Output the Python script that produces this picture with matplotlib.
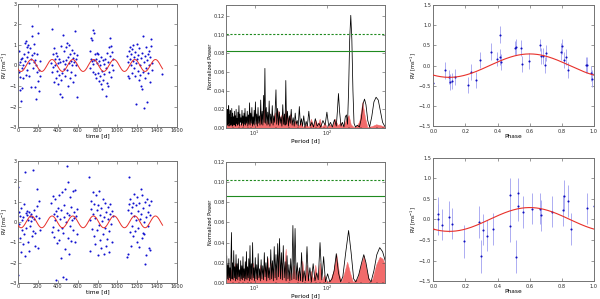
import numpy as np
import matplotlib
matplotlib.use("Agg")
from matplotlib import pyplot as plt

# ---- RV time series (top: data, bottom: residuals) ----
t_top = [4, 9, 13, 16, 21, 24, 29, 33, 36, 41, 44, 51, 54, 61, 66, 69, 76, 79, 86, 89, 94, 101, 104,
         111, 114, 121, 126, 129, 136, 141, 144, 151, 156, 159, 166, 171, 174, 181, 186, 189, 196,
         199, 206, 209, 216, 219, 226,
         334, 341, 346, 349, 356, 359, 366, 369, 376, 379, 386, 389, 396, 399, 406, 409, 416, 421,
         424, 431, 434, 441, 444, 451, 454, 461, 464, 471, 474, 481, 484, 491, 494, 501, 504, 511,
         514, 521, 524, 531, 534, 541, 544, 551, 554, 561, 564, 571, 574, 581, 584, 591, 594,
         721, 724, 731, 734, 741, 744, 751, 756, 759, 766, 769, 776, 779, 786, 789, 796, 799, 806,
         809, 816, 819, 826, 829, 836, 839, 846, 849, 856, 859, 866, 869, 876, 881, 884, 891, 894,
         901, 904, 911, 914, 921, 924, 931, 934, 941, 944, 951, 954,
         1101, 1104, 1111, 1114, 1121, 1124, 1131, 1134, 1141, 1144, 1151, 1154, 1161, 1164, 1171,
         1174, 1181, 1184, 1191, 1194, 1201, 1204, 1211, 1214, 1221, 1224, 1231, 1234, 1241, 1244,
         1251, 1254, 1261, 1264, 1271, 1274, 1281, 1284, 1291, 1294, 1301, 1304, 1311, 1314, 1321,
         1324, 1331, 1334, 1341, 1344, 1351, 1452]
rv_top = [0.05, -0.3, 0.7, -0.55, 0.15, -1.2, 0.3, -1.75, -0.1, -1.1, 0.35, 0.0, -0.6, 0.55, 0.2,
          1.1, -0.45, 1.2, 0.9, 0.4, -0.2, 0.65, 1.0, 0.1, -0.5, 0.85, 0.3, -1.05, 1.45, 1.9, 0.5,
          -0.1, 1.05, 0.15, 0.6, -1.05, 0.25, -1.65, 0.0, -0.3, 0.55, -0.75, 1.6, -1.25, -0.2, 0.2,
          -0.5,
          0.1, -0.3, 1.78, 0.55, -0.05, 0.85, -0.8, 0.3, 0.0, 0.6, -0.6, -0.25, 0.45, -0.9, 0.1,
          -0.45, 0.3, -1.4, 0.15, -0.7, 0.95, -1.55, -0.35, 1.5, 0.2, -0.15, 0.7, 0.05, -0.5, 0.9,
          0.25, 1.1, -0.2, -1.0, 0.4, 0.1, 1.0, -0.6, 0.55, 0.2, -0.3, 0.75, 0.0, -0.8, 0.35, 0.15,
          0.6, 1.68, -0.45, 0.3, 0.0, -1.55, 0.5,
          0.7, -0.1, 0.3, 1.35, 1.25, 0.2, -0.3, 1.72, 0.05, 1.6, 0.25, -0.4, 0.55, 0.3, -0.6, 0.6,
          0.1, -0.35, 0.55, -0.75, 0.2, -0.5, 0.0, -0.9, 0.4, -1.15, -0.25, 0.25, -0.7, 0.05, -0.4,
          0.3, -1.5, -0.1, 0.6, -0.85, -1.0, 0.15, 0.9, -0.3, 1.35, 0.45, -0.55, 0.95, 0.0, 0.65,
          -0.2, 0.3,
          0.45, -0.5, 0.15, 0.7, -0.6, 0.3, 0.9, 0.0, 0.55, -0.35, 0.8, 0.2, 1.0, -0.1, 0.4, -0.5,
          0.65, 0.1, -1.9, 0.3, 1.05, -0.25, 0.5, -0.7, 0.85, 0.0, -0.45, 0.35, -1.0, 0.6, -1.15,
          -0.3, 1.45, 0.15, -2.05, 0.45, -0.6, 0.9, -0.1, 0.25, -1.8, 0.55, -0.35, 0.7, 0.0, -0.8,
          0.4, 0.95, 1.3, -0.2, 0.1, -0.4]

t_bot = [2, 5, 9, 14, 18, 23, 27, 31, 36, 41, 46, 52, 57, 63, 66, 71, 77, 83, 88, 94, 99, 104,
         109, 113, 118, 123, 128, 133, 138, 143, 149, 154, 158, 163, 169, 174, 181, 188, 195, 201,
         207, 214, 221,
         336, 342, 348, 353, 359, 364, 369, 373, 378, 383, 389, 394, 399, 405, 411, 416, 422, 428,
         433, 438, 444, 449, 455, 460, 466, 471, 476, 482, 486, 490, 495, 500, 505, 510, 516, 521,
         527, 533, 538, 544, 549, 555, 561, 566, 572, 578, 584, 590, 596,
         718, 722, 728, 733, 739, 745, 750, 756, 762, 767, 773, 778, 784, 790, 795, 801, 806, 812,
         817, 823, 828, 834, 839, 845, 851, 856, 862, 867, 873, 878, 884, 890, 895, 901, 907, 912,
         918, 924, 930, 936, 942, 948, 953,
         1098, 1102, 1107, 1112, 1118, 1123, 1128, 1134, 1139, 1145, 1150, 1156, 1161, 1167, 1172,
         1178, 1183, 1189, 1194, 1200, 1205, 1211, 1216, 1222, 1227, 1233, 1238, 1244, 1249, 1255,
         1260, 1266, 1271, 1277, 1282, 1288, 1293, 1299, 1304, 1310, 1315, 1321, 1326, 1332, 1338]
rv_bot = [-2.6, 1.7, 0.5, -0.1, 0.3, -0.8, 0.7, -1.5, 0.1, -0.4, -1.1, 0.25, -0.6, 0.9, 2.45,
          -1.7, 0.45, -0.3, 0.35, 0.55, -1.0, 0.1, -1.45, 0.5, 0.3, -0.2, 0.4, 0.05, -0.7, 0.25,
          2.55, -0.45, 0.6, 0.15, -1.2, -0.55, 0.3, 0.8, 1.6, -1.3, 1.05, 0.2, -0.4,
          0.95, -0.5, 1.25, -0.25, 0.4, -0.75, 1.1, 0.1, -2.85, 0.55, -1.05, 0.3, -0.4, 0.7, 1.3,
          -0.9, 0.15, -1.8, 0.6, -0.3, 1.45, -0.55, -2.7, 0.25, 0.85, -1.35, 1.6, 0.0, -2.8, 2.75,
          0.45, -0.8, 1.95, -1.6, 0.35, 1.2, -0.2, 0.75, -0.95, 0.1, 1.5, -0.4, 0.5, 0.2, 1.55,
          -1.0, 0.3, -0.6, 0.65,
          2.2, 0.1, -1.45, 0.65, 1.05, -0.35, 0.4, 1.45, -0.7, 0.9, 0.2, -1.1, 1.3, -0.4, 0.6,
          -1.65, 0.85, -0.15, 1.5, -0.9, 0.35, -1.3, 0.7, 0.05, -0.6, 1.1, -1.6, 0.25, -0.3, 0.95,
          -1.2, 0.5, -0.85, 0.15, 0.75, -0.45, -1.5, 0.4, 0.9, -0.1, 0.55, -1.0, 0.3,
          -1.75, 0.6, -1.6, 2.2, 0.9, -0.5, 1.1, -1.2, 0.45, -0.2, 0.75, 0.95, -0.7, 0.3, 1.35,
          -0.45, 0.85, 0.1, -1.0, 1.2, 0.55, -0.3, 0.95, -1.25, 0.15, 1.6, 0.4, -0.8, 1.3, -0.55,
          0.7, 0.0, -0.6, 1.0, -2.05, 0.25, -1.65, 1.1, -0.2, 0.5, -1.3, 0.85, -1.4, 0.35, 1.05]

# sine model (period, semi-amplitude, time of maximum)
P_orb = 208.0
K_orb = 0.29
t_max = 135.0
t_model_end = 1455.0

# ---- phase-folded data ----
ph_top = [0.0, 0.072, 0.10, 0.104, 0.114, 0.135, 0.217, 0.238, 0.265, 0.294, 0.358, 0.397, 0.414,
          0.414, 0.42, 0.507, 0.517, 0.548, 0.553, 0.596, 0.662, 0.673, 0.683, 0.694, 0.704, 0.797,
          0.803, 0.814, 0.828, 0.838, 0.952, 0.958, 0.983, 0.988, 1.0]
phv_top = [-0.42, -0.12, -0.28, -0.40, -0.39, -0.28, -0.48, -0.16, -0.36, 0.15, 0.35, 0.16, 0.77,
           0.22, 0.10, 0.44, 0.47, 0.44, 0.04, 0.12, 0.52, 0.24, 0.24, 0.02, 0.32, 0.35, 0.48, 0.14,
           0.22, -0.10, 0.02, 0.02, -0.19, -0.32, -0.20]
phe_top = [0.18, 0.2, 0.18, 0.2, 0.2, 0.19, 0.2, 0.2, 0.2, 0.2, 0.2, 0.18, 0.2, 0.2, 0.2, 0.18, 0.2,
           0.2, 0.2, 0.2, 0.15, 0.2, 0.2, 0.2, 0.2, 0.2, 0.18, 0.2, 0.2, 0.2, 0.2, 0.2, 0.18, 0.2, 0.2]

ph_bot = [0.0, 0.027, 0.031, 0.056, 0.099, 0.118, 0.193, 0.284, 0.30, 0.31, 0.335, 0.369, 0.476,
          0.476, 0.518, 0.528, 0.528, 0.559, 0.617, 0.667, 0.673, 0.737, 0.807, 0.812, 0.84, 0.859,
          0.959, 1.0]
phv_bot = [-0.23, 0.14, 0.0, -0.13, 0.07, -0.10, -0.53, -0.06, -0.90, -0.25, -0.40, -0.23, 0.60,
           -0.16, -0.91, 0.64, 0.34, 0.18, 0.26, 0.26, 0.10, 0.19, 0.22, 0.58, 0.45, -0.23, 0.27,
           0.34]
phe_bot = [0.38, 0.4, 0.38, 0.38, 0.38, 0.38, 0.4, 0.38, 0.4, 0.38, 0.38, 0.38, 0.4, 0.38, 0.4,
           0.38, 0.38, 0.38, 0.38, 0.38, 0.38, 0.38, 0.38, 0.38, 0.38, 0.38, 0.38, 0.38]

# ---- periodograms: vertices as (log10 period, power) ----
pg_top_black = [
    (0.608, 0.012), (0.612, 0.028), (0.617, 0.004), (0.622, 0.020), (0.627, 0.003), (0.632, 0.017),
    (0.637, 0.005), (0.642, 0.024), (0.647, 0.002), (0.652, 0.014), (0.657, 0.006), (0.662, 0.019),
    (0.667, 0.003), (0.673, 0.011), (0.679, 0.004), (0.685, 0.021), (0.691, 0.002), (0.697, 0.016),
    (0.703, 0.005), (0.709, 0.012), (0.715, 0.003), (0.721, 0.018), (0.727, 0.004), (0.733, 0.013),
    (0.739, 0.002), (0.745, 0.020), (0.751, 0.005), (0.757, 0.010), (0.763, 0.003), (0.770, 0.017),
    (0.777, 0.004), (0.784, 0.024), (0.791, 0.002), (0.798, 0.015), (0.805, 0.006), (0.812, 0.011),
    (0.819, 0.003), (0.826, 0.019), (0.833, 0.005), (0.840, 0.013), (0.847, 0.002), (0.854, 0.016),
    (0.861, 0.004), (0.868, 0.021), (0.875, 0.003), (0.883, 0.012), (0.891, 0.005), (0.899, 0.018),
    (0.907, 0.002), (0.915, 0.014), (0.923, 0.004), (0.931, 0.027), (0.939, 0.003), (0.947, 0.016),
    (0.955, 0.005), (0.963, 0.022), (0.971, 0.002), (0.979, 0.012), (0.987, 0.004), (0.995, 0.019),
    (1.003, 0.003), (1.012, 0.028), (1.021, 0.004), (1.030, 0.015), (1.039, 0.002), (1.048, 0.022),
    (1.057, 0.005), (1.066, 0.013), (1.075, 0.003), (1.085, 0.030), (1.095, 0.004), (1.105, 0.018),
    (1.115, 0.003), (1.125, 0.035), (1.133, 0.006), (1.143, 0.064), (1.152, 0.005), (1.162, 0.022),
    (1.172, 0.003), (1.182, 0.017), (1.192, 0.004), (1.202, 0.029), (1.212, 0.002), (1.223, 0.015),
    (1.234, 0.005), (1.245, 0.024), (1.256, 0.003), (1.267, 0.013), (1.278, 0.006), (1.296, 0.041),
    (1.306, 0.004), (1.318, 0.021), (1.330, 0.003), (1.342, 0.017), (1.354, 0.005), (1.366, 0.012),
    (1.378, 0.002), (1.390, 0.025), (1.402, 0.004), (1.414, 0.015), (1.422, 0.003), (1.432, 0.051),
    (1.442, 0.004), (1.455, 0.018), (1.468, 0.002), (1.481, 0.013), (1.494, 0.005), (1.507, 0.020),
    (1.520, 0.003), (1.534, 0.011), (1.548, 0.002), (1.562, 0.016), (1.576, 0.004), (1.590, 0.008),
    (1.604, 0.002), (1.619, 0.023), (1.634, 0.003), (1.649, 0.010), (1.664, 0.002), (1.680, 0.013),
    (1.696, 0.001), (1.713, 0.007), (1.730, 0.002), (1.750, 0.018), (1.770, 0.002), (1.792, 0.006),
    (1.815, 0.001), (1.840, 0.010), (1.865, 0.002), (1.890, 0.005), (1.915, 0.001), (1.945, 0.008),
    (1.975, 0.003), (2.000, 0.017), (2.025, 0.002), (2.050, 0.006), (2.075, 0.001), (2.105, 0.009),
    (2.130, 0.002), (2.145, 0.018), (2.160, 0.037), (2.175, 0.018), (2.195, 0.002), (2.215, 0.006),
    (2.235, 0.001), (2.255, 0.012), (2.270, 0.014), (2.285, 0.004), (2.300, 0.040), (2.315, 0.095),
    (2.330, 0.121), (2.345, 0.095), (2.360, 0.040), (2.375, 0.005), (2.395, 0.001), (2.420, 0.003),
    (2.450, 0.001), (2.475, 0.010), (2.500, 0.026), (2.520, 0.031), (2.540, 0.025), (2.565, 0.008),
    (2.590, 0.001), (2.620, 0.012), (2.650, 0.028), (2.680, 0.033), (2.710, 0.030), (2.740, 0.018),
    (2.770, 0.006), (2.806, 0.001)]
pg_top_red = [
    (0.608, 0.008), (0.63, 0.015), (0.65, 0.004), (0.68, 0.012), (0.70, 0.003), (0.73, 0.014),
    (0.75, 0.004), (0.78, 0.010), (0.80, 0.002), (0.83, 0.013), (0.85, 0.003), (0.88, 0.011),
    (0.90, 0.004), (0.93, 0.016), (0.95, 0.003), (0.98, 0.010), (1.00, 0.002), (1.03, 0.012),
    (1.05, 0.003), (1.08, 0.015), (1.10, 0.004), (1.13, 0.020), (1.15, 0.005), (1.18, 0.012),
    (1.20, 0.003), (1.23, 0.013), (1.25, 0.006), (1.28, 0.017), (1.30, 0.008), (1.33, 0.019),
    (1.35, 0.010), (1.38, 0.016), (1.40, 0.009), (1.43, 0.020), (1.46, 0.010), (1.49, 0.015),
    (1.52, 0.004), (1.56, 0.008), (1.60, 0.002), (1.64, 0.006), (1.67, 0.001), (1.71, 0.004),
    (1.75, 0.001), (1.78, 0.010), (1.81, 0.002), (1.84, 0.009), (1.87, 0.003), (1.90, 0.010),
    (1.93, 0.001), (1.97, 0.005), (2.00, 0.001), (2.04, 0.004), (2.07, 0.001), (2.11, 0.010),
    (2.15, 0.003), (2.19, 0.006), (2.22, 0.001), (2.27, 0.010), (2.30, 0.014), (2.33, 0.004),
    (2.37, 0.001), (2.42, 0.003), (2.45, 0.008), (2.49, 0.028), (2.53, 0.010), (2.56, 0.001),
    (2.62, 0.002), (2.68, 0.004), (2.74, 0.003), (2.806, 0.001)]

pg_bot_black = [
    (0.608, 0.010), (0.615, 0.027), (0.622, 0.004), (0.630, 0.018), (0.637, 0.003), (0.645, 0.024),
    (0.652, 0.005), (0.660, 0.015), (0.667, 0.002), (0.675, 0.030), (0.681, 0.050), (0.688, 0.004),
    (0.696, 0.020), (0.704, 0.003), (0.712, 0.032), (0.720, 0.005), (0.728, 0.016), (0.736, 0.002),
    (0.744, 0.028), (0.752, 0.004), (0.760, 0.019), (0.768, 0.003), (0.776, 0.024), (0.784, 0.006),
    (0.792, 0.013), (0.800, 0.002), (0.808, 0.022), (0.816, 0.004), (0.824, 0.017), (0.832, 0.003),
    (0.840, 0.026), (0.848, 0.005), (0.856, 0.014), (0.864, 0.002), (0.872, 0.021), (0.880, 0.004),
    (0.888, 0.031), (0.896, 0.003), (0.904, 0.016), (0.912, 0.005), (0.920, 0.024), (0.928, 0.002),
    (0.937, 0.037), (0.946, 0.004), (0.955, 0.019), (0.964, 0.003), (0.973, 0.040), (0.982, 0.005),
    (0.991, 0.015), (1.000, 0.002), (1.010, 0.025), (1.020, 0.004), (1.030, 0.018), (1.040, 0.003),
    (1.050, 0.029), (1.060, 0.005), (1.070, 0.014), (1.080, 0.002), (1.091, 0.023), (1.102, 0.004),
    (1.113, 0.017), (1.124, 0.003), (1.135, 0.030), (1.146, 0.006), (1.157, 0.020), (1.168, 0.002),
    (1.179, 0.026), (1.190, 0.005), (1.201, 0.015), (1.212, 0.003), (1.224, 0.033), (1.236, 0.004),
    (1.248, 0.022), (1.260, 0.002), (1.272, 0.036), (1.284, 0.005), (1.296, 0.028), (1.308, 0.003),
    (1.320, 0.039), (1.332, 0.006), (1.345, 0.044), (1.358, 0.004), (1.371, 0.030), (1.384, 0.003),
    (1.397, 0.037), (1.410, 0.005), (1.423, 0.021), (1.436, 0.002), (1.449, 0.027), (1.462, 0.004),
    (1.475, 0.018), (1.488, 0.002), (1.500, 0.024), (1.515, 0.003), (1.530, 0.057), (1.545, 0.004),
    (1.560, 0.054), (1.575, 0.003), (1.590, 0.020), (1.605, 0.002), (1.620, 0.015), (1.635, 0.002),
    (1.650, 0.030), (1.665, 0.001), (1.685, 0.012), (1.705, 0.002), (1.725, 0.036), (1.745, 0.002),
    (1.765, 0.015), (1.785, 0.001), (1.810, 0.019), (1.835, 0.002), (1.860, 0.010), (1.880, 0.003),
    (1.905, 0.040), (1.930, 0.003), (1.955, 0.026), (1.980, 0.001), (2.010, 0.009), (2.040, 0.001),
    (2.070, 0.004), (2.100, 0.012), (2.130, 0.029), (2.160, 0.010), (2.190, 0.001), (2.220, 0.006),
    (2.260, 0.030), (2.300, 0.052), (2.335, 0.030), (2.370, 0.004), (2.400, 0.001), (2.440, 0.008),
    (2.480, 0.020), (2.510, 0.028), (2.540, 0.020), (2.580, 0.004), (2.610, 0.001), (2.650, 0.012),
    (2.690, 0.028), (2.730, 0.035), (2.770, 0.031), (2.806, 0.022)]
pg_bot_red = [
    (0.608, 0.010), (0.63, 0.018), (0.65, 0.005), (0.68, 0.014), (0.70, 0.004), (0.73, 0.020),
    (0.75, 0.005), (0.78, 0.012), (0.80, 0.003), (0.83, 0.016), (0.85, 0.004), (0.88, 0.022),
    (0.90, 0.005), (0.93, 0.015), (0.95, 0.004), (0.98, 0.020), (1.00, 0.003), (1.03, 0.014),
    (1.05, 0.005), (1.08, 0.018), (1.10, 0.003), (1.13, 0.017), (1.15, 0.006), (1.18, 0.025),
    (1.20, 0.004), (1.23, 0.020), (1.25, 0.005), (1.28, 0.016), (1.30, 0.005), (1.33, 0.028),
    (1.35, 0.006), (1.38, 0.020), (1.40, 0.004), (1.43, 0.034), (1.45, 0.005), (1.48, 0.012),
    (1.51, 0.003), (1.54, 0.018), (1.57, 0.004), (1.60, 0.012), (1.63, 0.002), (1.66, 0.022),
    (1.69, 0.002), (1.72, 0.018), (1.75, 0.002), (1.78, 0.012), (1.81, 0.003), (1.84, 0.018),
    (1.87, 0.002), (1.90, 0.020), (1.93, 0.002), (1.96, 0.008), (2.00, 0.001), (2.05, 0.003),
    (2.09, 0.012), (2.13, 0.029), (2.17, 0.008), (2.20, 0.001), (2.24, 0.010), (2.28, 0.021),
    (2.32, 0.010), (2.36, 0.001), (2.42, 0.004), (2.47, 0.018), (2.51, 0.027), (2.55, 0.012),
    (2.59, 0.001), (2.63, 0.004), (2.68, 0.018), (2.73, 0.026), (2.77, 0.024), (2.806, 0.018)]

# false-alarm levels (dashed, solid)
fap_top = [0.101, 0.083]
fap_bot = [0.102, 0.086]
pg_ymax = [0.132, 0.12]

FS = 3.6
plt.rcParams["font.family"] = "DejaVu Sans"


def style(ax):
    ax.tick_params(direction="in", top=True, right=True, labelsize=FS, length=2, width=0.4,
                   pad=0.8, colors="0.3", labelcolor="0.15")
    ax.tick_params(which="minor", direction="in", top=True, right=True, length=1, width=0.3)
    for s in ax.spines.values():
        s.set_color("0.45")
        s.set_linewidth(0.7)


def rv_panel(ax, t, rv):
    ax.plot(t, rv, "o", color="#1010d0", ms=1.5, mew=0, zorder=2)
    tm = np.linspace(0, t_model_end, 800)
    ax.plot(tm, K_orb * np.cos(2 * np.pi * (tm - t_max) / P_orb), color="#e8302a", lw=0.7, zorder=3)
    ax.set_xlim(0, 1600)
    ax.set_ylim(-3, 3)
    ax.set_xticks(range(0, 1601, 200))
    ax.set_xlabel("time [d]", fontsize=FS + 0.6, labelpad=0.2)
    ax.set_ylabel("RV [ms$^{-1}$]", fontsize=FS, labelpad=0.2)
    style(ax)


def pg_panel(ax, black, red, fap, ymax):
    b = np.array(black)
    r = np.array(red)
    ax.fill_between(10 ** r[:, 0], 0, r[:, 1], color="#f26b6b", lw=0.3, zorder=1)
    ax.plot(10 ** b[:, 0], b[:, 1], color="k", lw=0.55, zorder=2)
    ax.axhline(fap[0], color="#1f8a1f", lw=0.8, ls=(0, (2, 1.5)))
    ax.axhline(fap[1], color="#1f8a1f", lw=0.8)
    ax.set_xscale("log")
    ax.set_xlim(10 ** 0.608, 10 ** 2.806)
    ax.set_ylim(0, ymax)
    ax.set_yticks(np.arange(0, 0.121, 0.02))
    ax.set_yticklabels(["%.2f" % v for v in np.arange(0, 0.121, 0.02)])
    ax.set_xlabel("Period [d]", fontsize=FS + 0.6, labelpad=0.2)
    ax.set_ylabel("Normalized Power", fontsize=FS, labelpad=0.8)
    style(ax)


def ph_panel(ax, ph, v, e):
    ax.errorbar(ph, v, yerr=e, fmt="o", color="#1010c0", ms=1.5, mew=0, ecolor="#a0a0f0",
                elinewidth=0.6, capsize=0, zorder=2)
    pm = np.linspace(0, 1, 300)
    ax.plot(pm, K_orb * np.cos(2 * np.pi * (pm - 0.6)), color="#e8302a", lw=0.8, zorder=3)
    ax.set_xlim(0, 1)
    ax.set_ylim(-1.5, 1.5)
    ax.set_xticks(np.arange(0, 1.01, 0.2))
    ax.set_yticks(np.arange(-1.5, 1.51, 0.5))
    ax.set_xlabel("Phase", fontsize=FS + 0.6, labelpad=0.2)
    ax.set_ylabel("RV [ms$^{-1}$]", fontsize=FS, labelpad=0.8)
    style(ax)
    ax.tick_params(axis="x", pad=1.8)
    ax.tick_params(axis="y", pad=1.5)


fig = plt.figure(figsize=(6.0, 2.99), dpi=100)
ax1 = fig.add_axes([0.030, 0.575, 0.265, 0.412])
ax2 = fig.add_axes([0.377, 0.572, 0.265, 0.411])
ax3 = fig.add_axes([0.722, 0.578, 0.268, 0.405])
ax4 = fig.add_axes([0.030, 0.054, 0.265, 0.408])
ax5 = fig.add_axes([0.377, 0.054, 0.265, 0.404])
ax6 = fig.add_axes([0.722, 0.060, 0.268, 0.412])

rv_panel(ax1, t_top, rv_top)
rv_panel(ax4, t_bot, rv_bot)
pg_panel(ax2, pg_top_black, pg_top_red, fap_top, pg_ymax[0])
pg_panel(ax5, pg_bot_black, pg_bot_red, fap_bot, pg_ymax[1])
ph_panel(ax3, ph_top, phv_top, phe_top)
ph_panel(ax6, ph_bot, phv_bot, phe_bot)

fig.savefig("out.png", dpi=100)
